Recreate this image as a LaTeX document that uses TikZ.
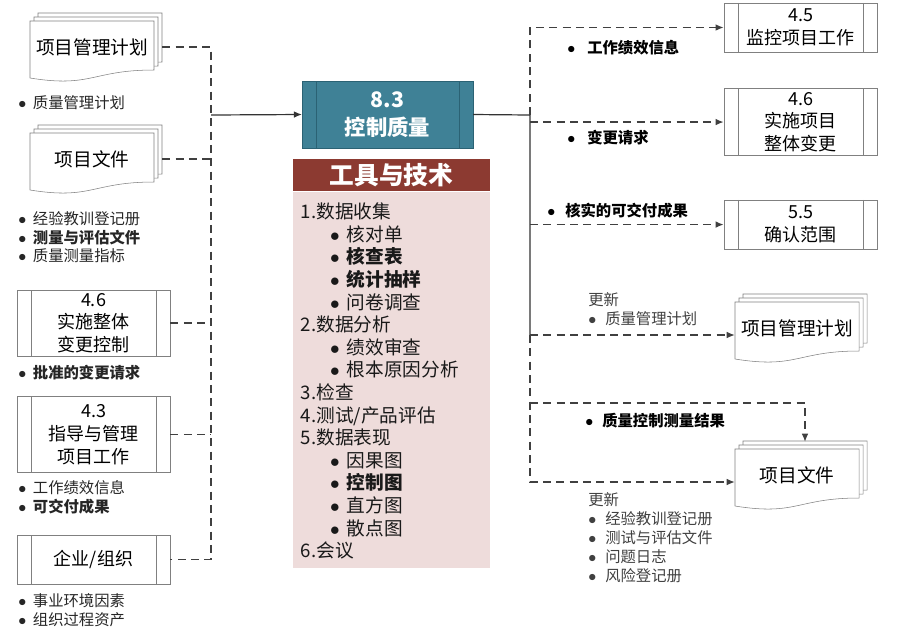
\documentclass[tikz,border=0pt]{standalone}
\usepackage{fontspec}
\setmainfont{Noto Sans CJK SC}
\usetikzlibrary{arrows.meta,positioning,calc}
\definecolor{kzTeal}{HTML}{3F8196}
\definecolor{kzTealDark}{HTML}{2B6274}
\definecolor{gjRed}{HTML}{8C3A31}
\definecolor{gjPink}{HTML}{EEDCDB}
\definecolor{lineaGris}{HTML}{808080}
\definecolor{textoGris}{HTML}{404040}
\tikzset{
  proceso/.style={draw=lineaGris, thin, align=center, inner sep=0pt, minimum width=115pt, font=\fontsize{13.5}{17}\selectfont,
    path picture={\draw[lineaGris, thin] ([xshift=10.5pt]path picture bounding box.north west) -- ([xshift=10.5pt]path picture bounding box.south west);
      \draw[lineaGris, thin] ([xshift=-10.5pt]path picture bounding box.north east) -- ([xshift=-10.5pt]path picture bounding box.south east);}},
  kzbox/.style={proceso, draw=kzTealDark, fill=kzTeal, text=white, font=\fontsize{16}{21}\selectfont\bfseries,
    path picture={\draw[kzTealDark] ([xshift=10.5pt]path picture bounding box.north west) -- ([xshift=10.5pt]path picture bounding box.south west);
      \draw[kzTealDark] ([xshift=-10.5pt]path picture bounding box.north east) -- ([xshift=-10.5pt]path picture bounding box.south east);}},
  pagina/.style={draw=lineaGris, thin, fill=white},
  doctexto/.style={font=\fontsize{14}{17}\selectfont, minimum width=93pt, minimum height=37.5pt, inner sep=0pt},
  lista/.style={anchor=west, align=left, inner sep=0pt, text=black!85, font=\fontsize{11.5}{13.9}\selectfont},
  gengxin/.style={lista, text=textoGris, font=\fontsize{11.5}{14.3}\selectfont},
  rotulo/.style={anchor=west, inner sep=0pt, font=\fontsize{11.5}{14}\selectfont\bfseries},
  linea/.style={draw=black!80, line width=0.9pt},
  discont/.style={draw=black!75, line width=0.9pt, dash pattern=on 6pt off 4pt},
  flecha/.style={-{Latex[length=6pt,width=5pt]}},
}
\newcommand{\li}[2][11pt]{\makebox[#1][l]{$\bullet$}#2}
\newcommand{\dian}[1]{\hspace*{22pt}\makebox[12.5pt][l]{$\bullet$}#1}
% stacked document: name, x, y (front page top left), text
\newcommand{\wenjian}[4]{%
  \foreach \o in {8,4,0}{
    \draw[pagina] ({#2+\o},{#3-\o}) -- ({#2+\o+124},{#3-\o}) -- ({#2+\o+124},{#3-\o+49})
      .. controls ({#2+\o+62},{#3-\o+49}) and ({#2+\o+62},{#3-\o+67}) .. ({#2+\o},{#3-\o+57}) -- cycle;
  }
  \node[doctexto] (#1) at ({#2+62},{#3+26}) {#4};
}

\begin{document}
\begin{tikzpicture}[x=0.75pt, y=-0.75pt]
\useasboundingbox (0,0) rectangle (919,637);

% inputs
\wenjian{lpmp}{30}{21}{项目管理计划}
\wenjian{lpd}{30}{133}{项目文件}
\node[proceso, minimum height=49.5pt] (l46) at (93.5,323) {4.6\\实施整体\\变更控制};
\node[proceso, minimum height=57pt, below=30pt of l46] (l43) {4.3\\指导与管理\\项目工作};
\node[proceso, minimum height=37pt, below=46.5pt of l43] (lent) {企业/组织};

\node[lista] (lpmp-l) at (18,103) {\li{质量管理计划}};
\node[lista] (lpd-l) at (18,237.5) {\li{经验教训登记册}\\\li{\textbf{测量与评估文件}}\\\li{质量测量指标}};
\node[lista] (l46-l) at (18,373) {\li{\textbf{批准的变更请求}}};
\node[lista] (l43-l) at (18,497.5) {\li{工作绩效信息}\\\li{\textbf{可交付成果}}};
\node[lista] (lent-l) at (18,610) {\li{事业环境因素}\\\li{组织过程资产}};

% process and tools
\node[kzbox, minimum width=128pt, minimum height=50pt] (kzzl) at (387.5,114.5) {8.3\\控制质量};
\node[fill=gjRed, text=white, minimum width=148pt, minimum height=24pt, inner sep=0pt, font=\fontsize{18.5}{20}\selectfont\bfseries,
  below=8pt of kzzl, xshift=3pt] (gjtit) {工具与技术};
\node[fill=gjPink, minimum width=148pt, minimum height=282pt, inner sep=0pt, below=0pt of gjtit] (gjfondo) {};
\node[anchor=north west, align=left, inner sep=0pt, text=black!90, font=\fontsize{14}{16.95}\selectfont]
  (gjlista) at ([shift={(6pt,-8.5pt)}]gjfondo.north west) {1.数据收集\\
  \dian{核对单}\\ \dian{\textbf{核查表}}\\ \dian{\textbf{统计抽样}}\\ \dian{问卷调查}\\
  2.数据分析\\ \dian{绩效审查}\\ \dian{根本原因分析}\\
  3.检查\\ 4.测试/产品评估\\ 5.数据表现\\
  \dian{因果图}\\ \dian{\textbf{控制图}}\\ \dian{直方图}\\ \dian{散点图}\\
  6.会议};

% outputs
\node[proceso, minimum height=37pt] (r45) at (800.5,27.5) {4.5\\监控项目工作};
\node[proceso, minimum height=50pt, below=27pt of r45] (r46) {4.6\\实施项目\\整体变更};
\node[proceso, minimum height=37pt, below=33pt of r46] (r55) {5.5\\确认范围};
\wenjian{rpmp}{735}{302}{项目管理计划}
\wenjian{rpd}{735}{449}{项目文件}

\node[rotulo] (r45-l) at (567,48) {\li[15pt]{工作绩效信息}};
\node[rotulo] (r46-l) at (567,138) {\li[15pt]{变更请求}};
\node[rotulo] (r55-l) at (547,211) {\li[13.5pt]{核实的可交付成果}};
\node[gengxin] (rpmp-l) at (588,309) {更新\\\li[12.75pt]{质量管理计划}};
\node[rotulo] (qcm-l) at (585,421) {\li[12.75pt]{质量控制测量结果}};
\node[gengxin] (rpd-l) at (588,538) {更新\\\li[12.75pt]{经验教训登记册}\\\li[12.75pt]{测试与评估文件}\\\li[12.75pt]{问题日志}\\\li[12.75pt]{风险登记册}};

% left connectors
\coordinate (busL) at (211,115);
\draw[discont] ([xshift=6pt]lpmp.east) -| (busL |- lent.east) -- (lent.east);
\draw[discont] ([xshift=6pt]lpd.east) -- (busL |- lpd.east);
\draw[discont] (l46.east) -- (busL |- l46.east);
\draw[discont] (l43.east) -- (busL |- l43.east);
\draw[linea, flecha] (busL) -- (kzzl.west);

% right connectors
\coordinate (busR) at (530,115);
\coordinate (tpmp) at (530,335);
\coordinate (qcm) at (530,403);
\coordinate (tpd) at (530,482);
\draw[linea] (kzzl.east) -- (busR) -- (tpmp);
\draw[discont, flecha] (busR) |- (r45.west);
\draw[discont, flecha] (busR |- r46.west) -- (r46.west);
\draw[discont, flecha] (busR |- r55.west) -- (r55.west);
\draw[discont, flecha] (tpmp) -- (tpmp -| rpmp.west);
\draw[discont, flecha] (tpmp) -- (tpd) -- (tpd -| rpd.west);
\draw[discont, flecha] (qcm) -| ([shift={(6pt,6pt)}]rpd.north);
\end{tikzpicture}
\end{document}
